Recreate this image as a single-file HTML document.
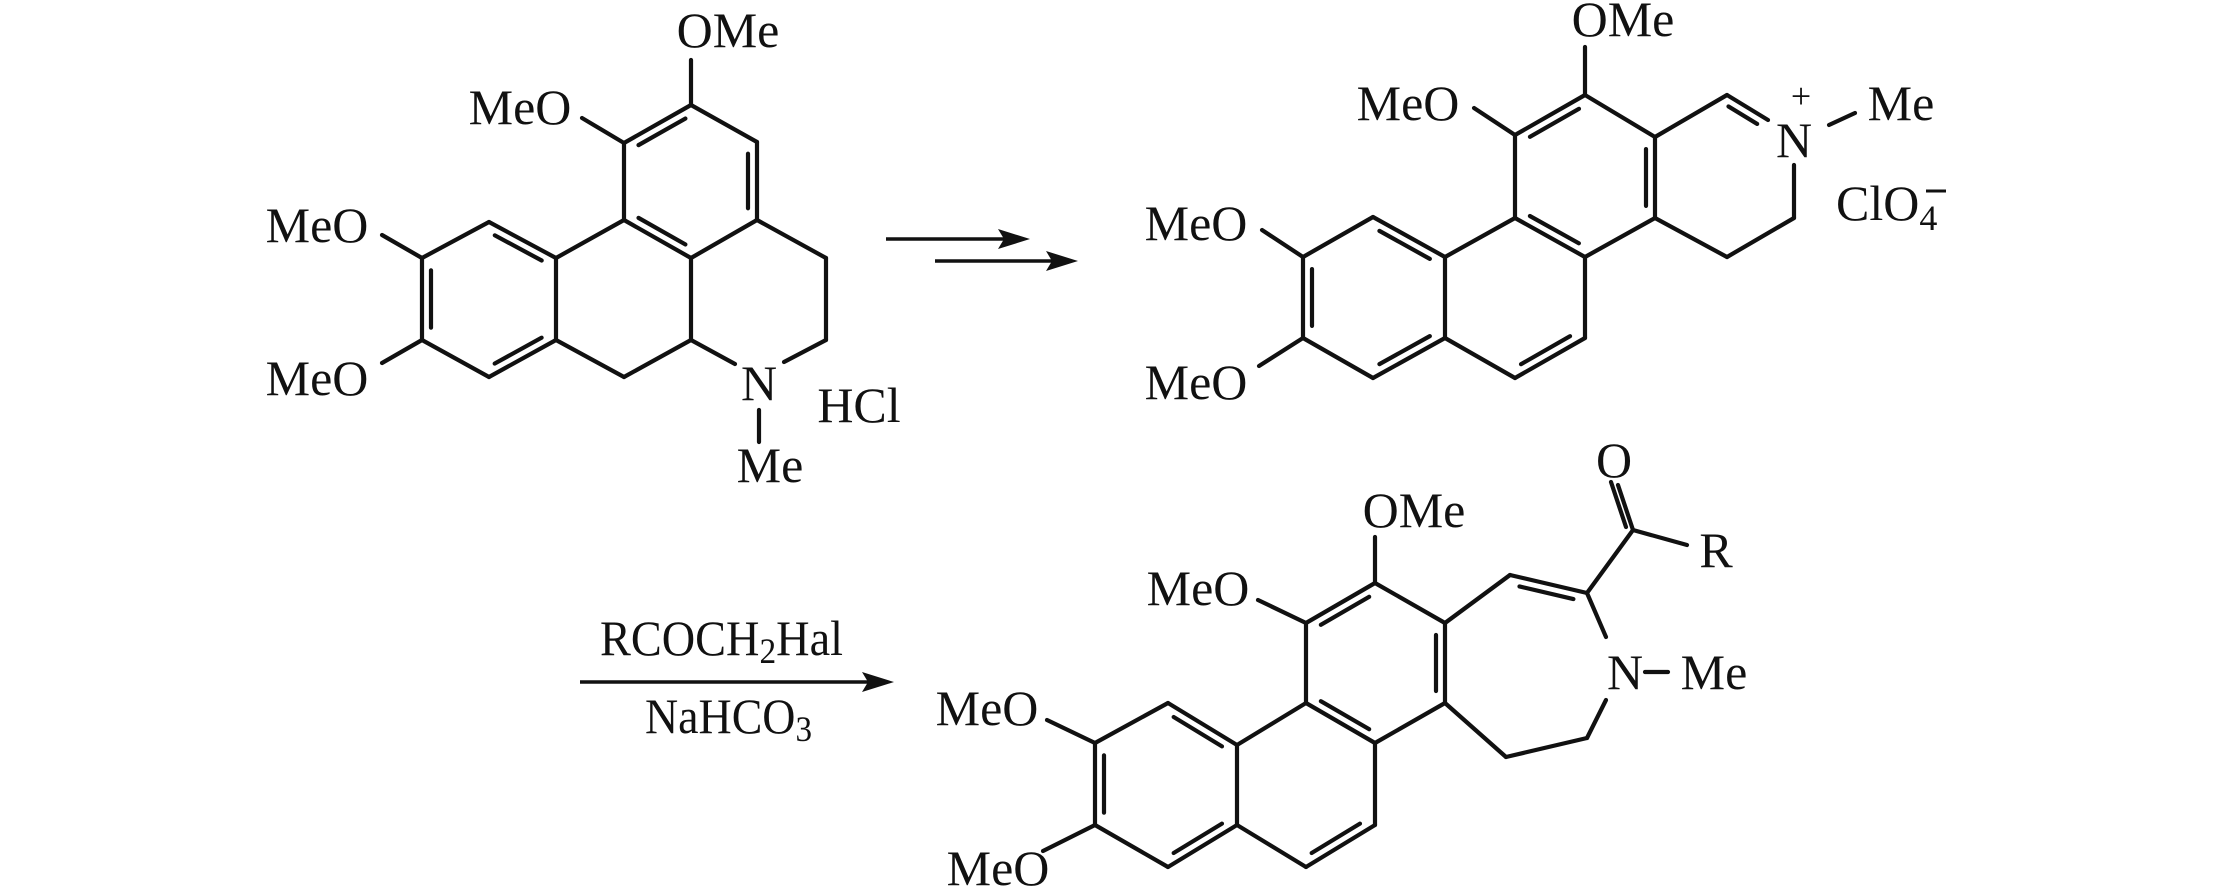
<!DOCTYPE html>
<html><head><meta charset="utf-8">
<style>
html,body{margin:0;padding:0;background:#fff;}
svg{display:block;}
text{font-family:"Liberation Serif",serif;font-size:50px;fill:#111;}
</style></head>
<body>
<svg id="s" width="2213" height="886" viewBox="0 0 2213 886" xmlns="http://www.w3.org/2000/svg">
<g id="b" stroke="#111" stroke-width="4.2" stroke-linecap="round" fill="none"></g>
<g text-anchor="middle">
<!-- left molecule -->
<text x="728" y="47">OMe</text>
<text x="520" y="124">MeO</text>
<text x="317" y="242">MeO</text>
<text x="317" y="395">MeO</text>
<text x="759" y="400">N</text>
<text x="770" y="482">Me</text>
<text x="859" y="422">HCl</text>
<!-- top right -->
<text x="1623" y="36">OMe</text>
<text x="1408" y="120">MeO</text>
<text x="1196" y="240">MeO</text>
<text x="1196" y="399">MeO</text>
<text x="1794" y="157">N</text>
<text x="1801" y="108" style="font-size:36px">+</text>
<text x="1901" y="120">Me</text>
<!-- bottom -->
<text x="1414" y="527">OMe</text>
<text x="1198" y="605">MeO</text>
<text x="987" y="725">MeO</text>
<text x="998" y="885">MeO</text>
<text x="1625" y="689">N</text>
<text x="1714" y="689">Me</text>
<text x="1614" y="477">O</text>
<text x="1716" y="567">R</text>
</g>
<text x="1836" y="220">ClO<tspan style="font-size:36px" dy="10">4</tspan></text>
<line x1="1926" y1="191" x2="1946" y2="191" stroke="#111" stroke-width="3"/>
<text x="600" y="655" textLength="243" lengthAdjust="spacingAndGlyphs">RCOCH<tspan style="font-size:36px" dy="8">2</tspan><tspan dy="-8">Hal</tspan></text>
<text x="645" y="733" textLength="167" lengthAdjust="spacingAndGlyphs">NaHCO<tspan style="font-size:36px" dy="8">3</tspan></text>
<!-- arrows -->
<g stroke="#111" stroke-width="3.5">
<line x1="886" y1="239" x2="1010" y2="239"/>
<line x1="935" y1="261" x2="1058" y2="261"/>
<line x1="580" y1="682" x2="872" y2="682"/>
</g>
<g fill="#111">
<path d="M1030,239 L998,229 L1004,239 L998,249 Z"/>
<path d="M1078,261 L1046,251 L1052,261 L1046,271 Z"/>
<path d="M894,682 L862,672 L868,682 L862,692 Z"/>
</g>
</svg>
<script>
(function(){
var g=document.getElementById('b');
function L(p,q){var l=document.createElementNS('http://www.w3.org/2000/svg','line');
l.setAttribute('x1',p[0]);l.setAttribute('y1',p[1]);l.setAttribute('x2',q[0]);l.setAttribute('y2',q[1]);g.appendChild(l);}
function D(p,q,c){ // inner double line toward center c
 L(p,q);
 var mx=(p[0]+q[0])/2,my=(p[1]+q[1])/2;
 var dx=q[0]-p[0],dy=q[1]-p[1],len=Math.hypot(dx,dy);
 var nx=-dy/len,ny=dx/len;
 if((c[0]-mx)*nx+(c[1]-my)*ny<0){nx=-nx;ny=-ny;}
 var o=9,s=0.15;
 L([p[0]+dx*s+nx*o,p[1]+dy*s+ny*o],[q[0]-dx*s+nx*o,q[1]-dy*s+ny*o]);
}
function cen(a){var x=0,y=0;a.forEach(function(p){x+=p[0];y+=p[1];});return [x/a.length,y/a.length];}
// ---------- left molecule
var A=[691,105],B=[757,142],C=[757,220],Dd=[691,258],E=[624,220],F=[624,143];
var c1=cen([A,B,C,Dd,E,F]);
D(F,A,c1);L(A,B);D(B,C,c1);L(C,Dd);D(Dd,E,c1);L(E,F);
L(A,[691,60]);L(F,[582,118]);
var G=[556,258],H=[489,222],I=[422,258],J=[422,340],K=[489,377],Lq=[556,340];
var c2=cen([G,H,I,J,K,Lq]);
D(G,H,c2);L(H,I);D(I,J,c2);L(J,K);D(K,Lq,c2);L(Lq,G);
L(I,[382,235]);L(J,[382,363]);
L(E,G);L(Lq,[624,377]);L([624,377],[691,340]);L([691,340],Dd);
L([691,340],[735,364]);L([784,362],[826,340]);L([826,340],[826,258]);L([826,258],C);
L([759,410],[759,442]);
// ---------- top right
var a1=[1585,95],a2=[1655,137],a3=[1655,218],a4=[1585,257],a5=[1515,218],a6=[1515,135];
var ca=cen([a1,a2,a3,a4,a5,a6]);
D(a6,a1,ca);L(a1,a2);D(a2,a3,ca);L(a3,a4);D(a4,a5,ca);L(a5,a6);
L(a1,[1585,47]);L(a6,[1474,108]);
var b2=[1445,257],b3=[1373,217],b4=[1303,257],b5=[1303,338],b6=[1373,378],b7=[1445,338];
var cb=cen([b2,b3,b4,b5,b6,b7]);
D(b2,b3,cb);L(b3,b4);D(b4,b5,cb);L(b5,b6);D(b6,b7,cb);L(b7,b2);
L(b4,[1262,230]);L(b5,[1259,366]);
var cc1=[1515,378],cc2=[1585,338];
var cc=cen([a4,a5,b2,b7,cc1,cc2]);
L(a5,b2);L(b7,cc1);D(cc1,cc2,cc);L(cc2,a4);
var d1=[1727,95];var cd=[1725,180];
L(a2,d1);D(d1,[1768,120],cd);
L([1829,125],[1855,113]);
L([1794,165],[1794,218]);L([1794,218],[1727,257]);L([1727,257],a3);
// ---------- bottom
var p1=[1375,583],p2=[1445,623],p3=[1445,703],p4=[1375,743],p5=[1306,703],p6=[1306,623];
var cp=cen([p1,p2,p3,p4,p5,p6]);
D(p6,p1,cp);L(p1,p2);D(p2,p3,cp);L(p3,p4);D(p4,p5,cp);L(p5,p6);
L(p1,[1375,537]);L(p6,[1258,600]);
var q2=[1237,745],q3=[1168,703],q4=[1095,743],q5=[1095,825],q6=[1168,867],q7=[1237,825];
var cq=cen([q2,q3,q4,q5,q6,q7]);
D(q2,q3,cq);L(q3,q4);D(q4,q5,cq);L(q5,q6);D(q6,q7,cq);L(q7,q2);
L(q4,[1047,720]);L(q5,[1043,851]);
var r1=[1306,867],r2=[1375,825];
var cr=cen([p4,p5,q2,q7,r1,r2]);
L(p5,q2);L(q7,r1);D(r1,r2,cr);L(r2,p4);
var e1=[1510,575],e2=[1587,593];
L(p2,e1);D(e1,e2,[1545,650]);
L(e2,[1606,637]);
L([1645,672],[1668,672]);
L([1606,700],[1587,738]);L([1587,738],[1506,757]);L([1506,757],p3);
var k=[1633,530];
L(e2,k);L(k,[1687,545]);
L(k,[1618,485]);L([1626,527],[1611,482]);
})();
</script>
</body></html>
